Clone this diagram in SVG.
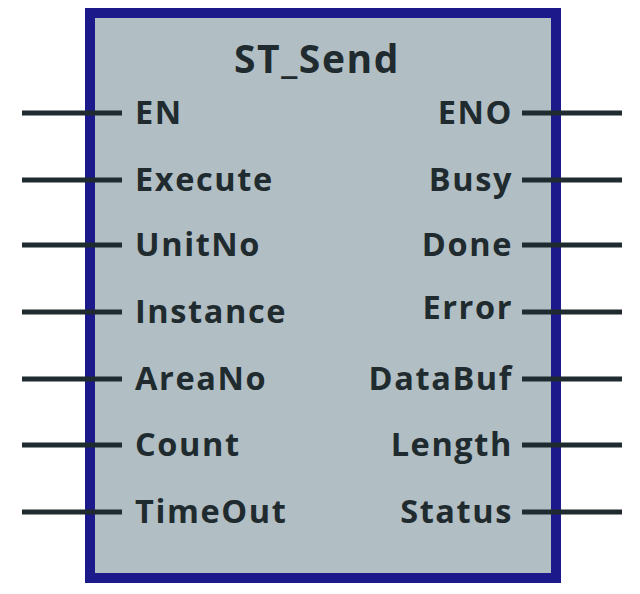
<svg xmlns="http://www.w3.org/2000/svg" width="640" height="594" viewBox="0 0 640 594">
<style>
.pin{stroke:#1f2b2e;stroke-width:5;fill:none}
.lbl{font-family:"Open Sans","DejaVu Sans",sans-serif;font-weight:bold;font-size:32.5px;fill:#1f2b2e;letter-spacing:1.6px}
.r{text-anchor:end}
</style>
<rect width="640" height="594" fill="#ffffff"/>
<g id="block">
<rect x="90" y="13" width="466" height="565" fill="#b1bec4" stroke="#1c1a8a" stroke-width="10"/>
<text x="317" y="73" class="lbl" style="font-size:39px" text-anchor="middle">ST_Send</text>
</g>
<g id="connectors">
<line class="pin" x1="22" y1="113" x2="122" y2="113"/>
<line class="pin" x1="22" y1="180" x2="122" y2="180"/>
<line class="pin" x1="22" y1="245" x2="122" y2="245"/>
<line class="pin" x1="22" y1="312" x2="122" y2="312"/>
<line class="pin" x1="22" y1="379" x2="122" y2="379"/>
<line class="pin" x1="22" y1="445" x2="122" y2="445"/>
<line class="pin" x1="22" y1="512" x2="122" y2="512"/>
<line class="pin" x1="522" y1="113" x2="622" y2="113"/>
<line class="pin" x1="522" y1="180" x2="622" y2="180"/>
<line class="pin" x1="522" y1="245" x2="622" y2="245"/>
<line class="pin" x1="522" y1="312" x2="622" y2="312"/>
<line class="pin" x1="522" y1="379" x2="622" y2="379"/>
<line class="pin" x1="522" y1="445" x2="622" y2="445"/>
<line class="pin" x1="522" y1="512" x2="622" y2="512"/>
</g>
<g id="inputs">
<text class="lbl" x="135" y="124">EN</text>
<text class="lbl" x="135" y="191">Execute</text>
<text class="lbl" x="135" y="256">UnitNo</text>
<text class="lbl" x="135" y="323">Instance</text>
<text class="lbl" x="135" y="390">AreaNo</text>
<text class="lbl" x="135" y="456">Count</text>
<text class="lbl" x="135" y="523">TimeOut</text>
</g>
<g id="outputs">
<text class="lbl r" x="513" y="124">ENO</text>
<text class="lbl r" x="513" y="191">Busy</text>
<text class="lbl r" x="513" y="256">Done</text>
<text class="lbl r" x="513" y="319">Error</text>
<text class="lbl r" x="513" y="390">DataBuf</text>
<text class="lbl r" x="513" y="456">Length</text>
<text class="lbl r" x="513" y="523">Status</text>
</g>
</svg>
